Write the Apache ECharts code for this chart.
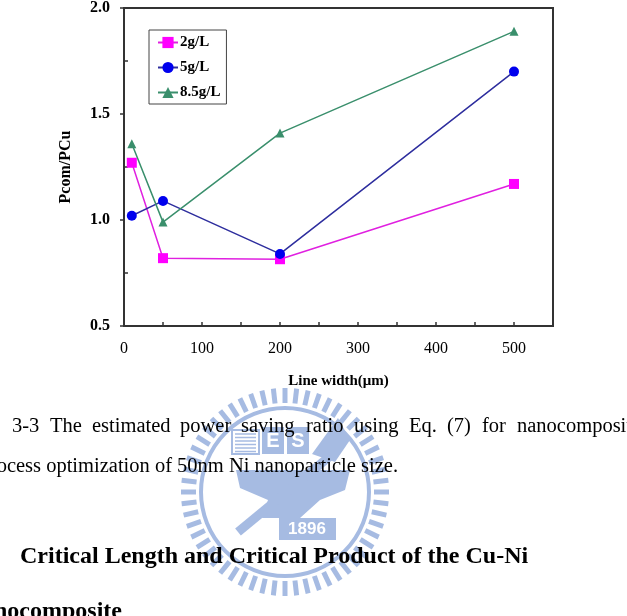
<!DOCTYPE html>
<html>
<head>
<meta charset="utf-8">
<script src="https://cdn.jsdelivr.net/npm/echarts@6/dist/echarts.min.js"></script>
<style>
  html, body { margin: 0; padding: 0; background: #fff; }
  #chart { width: 627px; height: 616px; }
</style>
</head>
<body>
<div id="chart"></div>
<script>
// line width (um) and Pcom/PCu for each Ni concentration
var lineWidths = [10, 50, 200, 500];
var ratio2 = [1.27, 0.82, 0.815, 1.17];
var ratio5 = [1.02, 1.09, 0.84, 1.70];
var ratio85 = [1.36, 0.99, 1.41, 1.89];
var seriesNames = ['2g/L', '5g/L', '8.5g/L'];
var xTickLabels = [0, 100, 200, 300, 400, 500];
var yTickLabels = [0.5, 1.0, 1.5, 2.0];

var serif = 'Liberation Serif';
var wmColor = '#a6bbe2';

function pairs(ys) {
  return lineWidths.map(function (x, i) { return [x, ys[i]]; });
}

// watermark (school seal behind the caption)
var watermark = [];
var cx = 285, cy = 492;
for (var k = 0; k < 56; k++) {
  watermark.push({
    type: 'rect', x: cx, y: cy, rotation: k * Math.PI * 2 / 56, z: 1, silent: true,
    shape: { x: -2.5, y: -104, width: 5, height: 15 },
    style: { fill: wmColor }
  });
}
watermark.push(
  { type: 'circle', z: 1, silent: true, shape: { cx: cx, cy: cy, r: 84 },
    style: { fill: 'none', stroke: wmColor, lineWidth: 4 } },
  { type: 'rect', z: 1, silent: true, shape: { x: 232, y: 430, width: 27, height: 24 },
    style: { fill: 'none', stroke: wmColor, lineWidth: 2 } },
  { type: 'rect', z: 1, silent: true, shape: { x: 262, y: 427, width: 22, height: 27 },
    style: { fill: wmColor } },
  { type: 'text', z: 2, silent: true, x: 273, y: 441,
    style: { text: 'E', fill: '#fff', font: 'bold 20px Liberation Sans', align: 'center', verticalAlign: 'middle' } },
  { type: 'rect', z: 1, silent: true, shape: { x: 287, y: 427, width: 22, height: 27 },
    style: { fill: wmColor } },
  { type: 'text', z: 2, silent: true, x: 298, y: 441,
    style: { text: 'S', fill: '#fff', font: 'bold 20px Liberation Sans', align: 'center', verticalAlign: 'middle' } },
  { type: 'polygon', z: 1, silent: true, shape: { points: [[312, 454], [338, 418], [350, 440], [335, 462]] },
    style: { fill: wmColor } },
  { type: 'polygon', z: 1, silent: true,
    shape: { points: [[236, 470], [350, 470], [345, 490], [320, 500], [300, 518], [262, 518], [268, 500], [240, 488]] },
    style: { fill: wmColor } },
  { type: 'line', z: 1, silent: true, shape: { x1: 238, y1: 532, x2: 335, y2: 452 },
    style: { stroke: wmColor, lineWidth: 9 } },
  { type: 'rect', z: 1, silent: true, shape: { x: 279, y: 518, width: 57, height: 22 },
    style: { fill: wmColor } },
  { type: 'text', z: 2, silent: true, x: 307, y: 529,
    style: { text: '1896', fill: '#fff', font: 'bold 17px Liberation Sans', align: 'center', verticalAlign: 'middle' } }
);
for (var h = 0; h < 6; h++) {
  watermark.push({ type: 'line', z: 1, silent: true,
    shape: { x1: 235, y1: 434 + h * 3.5, x2: 256, y2: 434 + h * 3.5 },
    style: { stroke: wmColor, lineWidth: 1.5 } });
}

// caption line 1 is justified, so words are placed one by one
var cap1Words = ['3-3', 'The', 'estimated', 'power', 'saving', 'ratio', 'using', 'Eq.', '(7)', 'for', 'nanocomposites'];
var cap1X = [12, 50, 92, 180, 241, 306, 354, 409, 447, 482, 517];
var texts = cap1Words.map(function (w, i) {
  return { type: 'text', z: 5, silent: true, x: cap1X[i], y: 427,
    style: { text: w, fill: '#000', font: '20.5px ' + serif, verticalAlign: 'middle' } };
});
texts.push(
  { type: 'text', z: 5, silent: true, x: 398, y: 467,
    style: { text: 'process optimization of 50nm Ni nanoparticle size.', fill: '#000',
      font: '20.5px ' + serif, align: 'right', verticalAlign: 'middle' } },
  { type: 'text', z: 5, silent: true, x: 20, y: 557,
    style: { text: 'Critical Length and Critical Product of the Cu-Ni', fill: '#000',
      font: 'bold 24px ' + serif, verticalAlign: 'middle' } },
  { type: 'text', z: 5, silent: true, x: 122, y: 612,
    style: { text: 'nanocomposite', fill: '#000',
      font: 'bold 24px ' + serif, align: 'right', verticalAlign: 'middle' } }
);

var chart = echarts.init(document.getElementById('chart'));
chart.setOption({
  animation: false,
  backgroundColor: '#fff',
  grid: {
    left: 124, right: 74, top: 7, bottom: 290,
    show: true, borderColor: '#333', borderWidth: 2
  },
  legend: {
    data: seriesNames,
    orient: 'vertical',
    left: 149, top: 30,
    padding: [5, 6, 4, 8],
    itemWidth: 20, itemHeight: 14, itemGap: 10,
    borderColor: '#444', borderWidth: 1,
    textStyle: { fontFamily: serif, fontWeight: 'bold', fontSize: 15, color: '#000', padding: [0, 0, 0, -3] }
  },
  xAxis: {
    type: 'value', min: 0, max: 550, interval: 100,
    name: 'Line width(μm)', nameLocation: 'middle', nameGap: 48,
    nameTextStyle: { fontFamily: serif, fontWeight: 'bold', fontSize: 15, color: '#000' },
    axisLine: { show: true, lineStyle: { color: '#333', width: 2 } },
    axisTick: { show: true, inside: true, length: 4, customValues: [50, 100, 150, 200, 250, 300, 350, 400, 450, 500],
      lineStyle: { color: '#333', width: 1.5 } },
    axisLabel: { customValues: xTickLabels, margin: 15, fontFamily: serif, fontSize: 16, color: '#000' },
    splitLine: { show: false }
  },
  yAxis: [{
    type: 'value', min: 0.5, max: 2.0, interval: 0.5,
    name: 'Pcom/PCu', nameLocation: 'middle', nameGap: 50, nameRotate: 90,
    nameTextStyle: { fontFamily: serif, fontWeight: 'bold', fontSize: 16, color: '#000' },
    axisLine: { show: true, lineStyle: { color: '#333', width: 2 } },
    axisTick: { show: true, inside: false, length: 4, customValues: yTickLabels, lineStyle: { color: '#333', width: 1.5 } },
    axisLabel: { customValues: yTickLabels, margin: 14, fontFamily: serif, fontWeight: 'bold', fontSize: 16, color: '#000',
      formatter: function (v) { return v.toFixed(1); } },
    splitLine: { show: false }
  }, {
    type: 'value', min: 0.5, max: 2.0, interval: 0.25, position: 'left',
    axisLine: { show: false },
    axisTick: { show: true, inside: true, length: 4, customValues: [0.75, 1.25, 1.75], lineStyle: { color: '#333', width: 1.5 } },
    axisLabel: { show: false },
    splitLine: { show: false }
  }],
  series: [{
    name: seriesNames[0], type: 'line', data: pairs(ratio2),
    symbol: 'rect', symbolSize: 10,
    itemStyle: { color: '#ff00ff' },
    lineStyle: { color: '#e020e0', width: 1.5 }
  }, {
    name: seriesNames[1], type: 'line', data: pairs(ratio5),
    symbol: 'circle', symbolSize: 10,
    itemStyle: { color: '#0000ee' },
    lineStyle: { color: '#2e2e9e', width: 1.5 }
  }, {
    name: seriesNames[2], type: 'line', data: pairs(ratio85),
    symbol: 'triangle', symbolSize: 9,
    itemStyle: { color: '#3a8f6c' },
    lineStyle: { color: '#3a8f6c', width: 1.5 }
  }],
  graphic: watermark.concat(texts)
});
</script>
</body>
</html>
